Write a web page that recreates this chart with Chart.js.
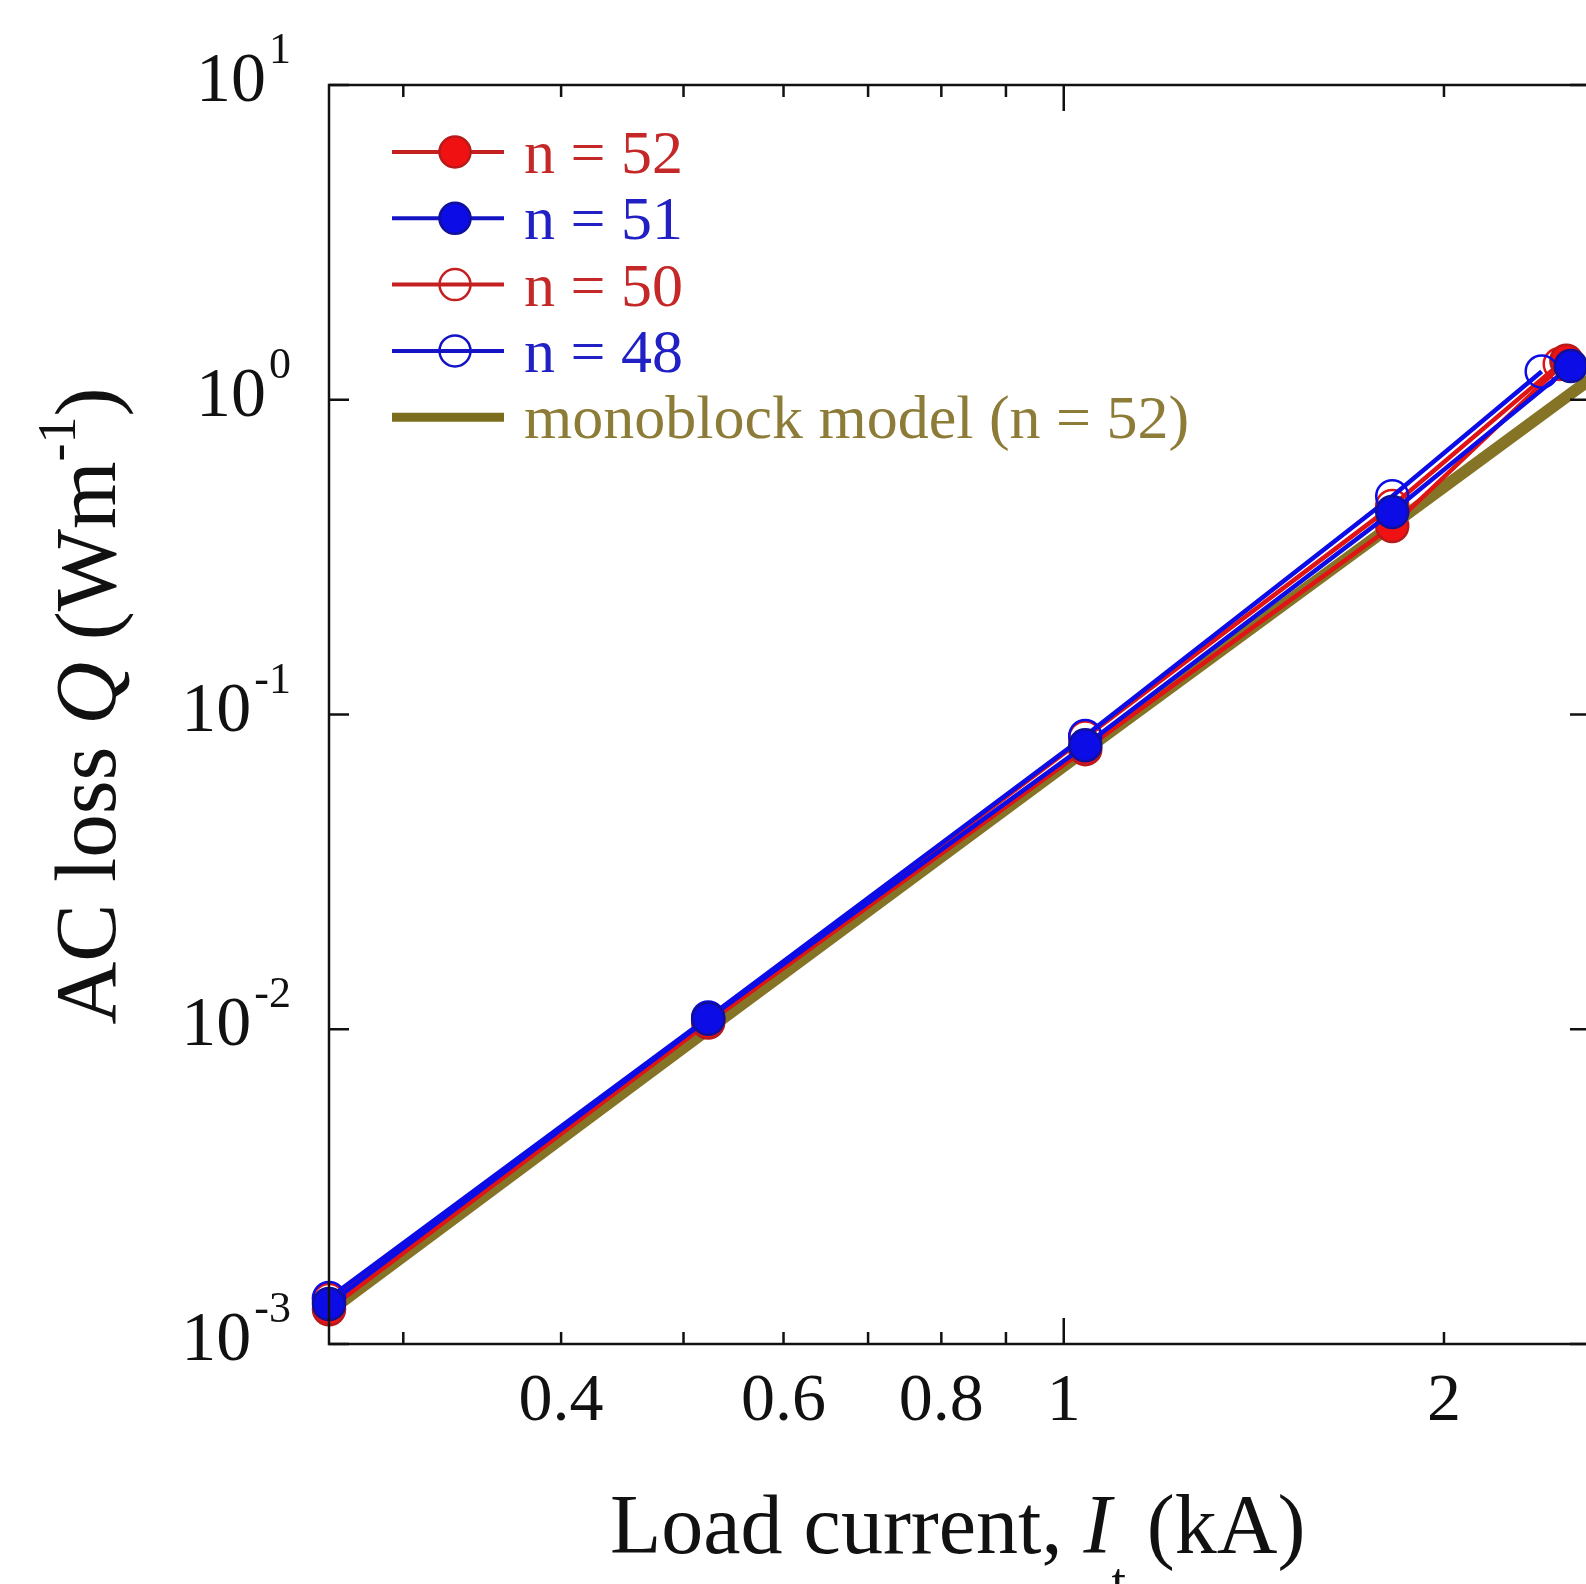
<!DOCTYPE html>
<html>
<head>
<meta charset="utf-8">
<script src="https://cdn.jsdelivr.net/npm/chart.js@4.4.1/dist/chart.umd.min.js"></script>
<style>
  html, body { margin: 0; padding: 0; background: #fff; overflow: hidden; }
  #wrap { position: absolute; left: 0; top: 0; width: 1600px; height: 1584px; }
</style>
</head>
<body>
<div id="wrap"><canvas id="chart" width="1600" height="1584"></canvas></div>
<script>
// Data (load current in kA, AC loss in W/m)
const currentN52 = [0.262, 0.523, 1.04, 1.82, 2.50];
const lossN52 = [1.29e-3, 1.05e-2, 0.0776, 0.397, 1.33];
const currentN51 = [0.262, 0.523, 1.04, 1.82, 2.52];
const lossN51 = [1.34e-3, 1.08e-2, 0.0798, 0.44, 1.28];
const currentN50 = [0.262, 0.523, 1.04, 1.82, 2.47];
const lossN50 = [1.38e-3, 1.07e-2, 0.0845, 0.46, 1.30];
const currentN48 = [0.262, 0.523, 1.04, 1.82, 2.39];
const lossN48 = [1.40e-3, 1.09e-2, 0.0855, 0.494, 1.23];
const currentModel = [0.262, 0.523, 1.04, 1.82, 2.61];
const lossModel = [1.27e-3, 1.0e-2, 0.077, 0.40, 1.16];

const seriesNames = ["n = 52", "n = 51", "n = 50", "n = 48", "monoblock model (n = 52)"];

// axis ticks
const xMajorTicks = [1];
const xMinorTicks = [0.3, 0.4, 0.5, 0.6, 0.7, 0.8, 0.9, 2];
const xTickLabels = [0.4, 0.6, 0.8, 1, 2];
const yTickExponents = [-3, -2, -1, 0, 1];

const FONT = '"Liberation Serif", "Times New Roman", serif';

function pts(xs, ys) {
    return xs.map((x, i) => ({ x: x, y: ys[i] }));
}

const RED = "#e01414";
const BLUE = "#0c0ce6";
const OLIVE = "#857426";

// Frame, ticks, labels, titles and legend
const framePlugin = {
    id: "frame",
    afterDraw(chart) {
        const ctx = chart.ctx;
        const xs = chart.scales.x, ys = chart.scales.y;
        const a = chart.chartArea;
        ctx.save();
        ctx.strokeStyle = "#111";
        ctx.lineWidth = 2.5;
        ctx.strokeRect(a.left, a.top, a.right - a.left, a.bottom - a.top);

        // x ticks (bottom and top, pointing inward)
        const xt = [];
        xMajorTicks.forEach(v => xt.push([v, 26]));
        xMinorTicks.forEach(v => xt.push([v, 12]));
        xt.forEach(([v, len]) => {
            const px = xs.getPixelForValue(v);
            ctx.beginPath();
            ctx.moveTo(px, a.bottom); ctx.lineTo(px, a.bottom - len);
            ctx.moveTo(px, a.top); ctx.lineTo(px, a.top + len);
            ctx.stroke();
        });
        // y ticks
        yTickExponents.forEach(e => {
            const py = ys.getPixelForValue(Math.pow(10, e));
            ctx.beginPath();
            ctx.moveTo(a.left, py); ctx.lineTo(a.left + 20, py);
            ctx.moveTo(a.right, py); ctx.lineTo(a.right - 20, py);
            ctx.stroke();
        });

        // x tick labels
        ctx.fillStyle = "#111";
        ctx.font = "68px " + FONT;
        ctx.textAlign = "center";
        ctx.textBaseline = "alphabetic";
        xTickLabels.forEach(v => {
            ctx.fillText(String(v), xs.getPixelForValue(v), 1420);
        });

        // y tick labels 10^e
        yTickExponents.forEach(e => {
            const py = ys.getPixelForValue(Math.pow(10, e));
            const exp = e < 0 ? "-" + Math.abs(e) : String(e);
            ctx.font = "44px " + FONT;
            const ew = ctx.measureText(exp).width;
            ctx.textAlign = "right";
            ctx.fillText(exp, 291, py - 22);
            ctx.font = "70px " + FONT;
            ctx.fillText("10", 291 - ew - 3, py + 16);
        });

        // x title
        drawRich(ctx, 610, 1553, [
            { t: "Load current, ", size: 84 },
            { t: "I", size: 84, italic: true },
            { t: "t", size: 52, dy: 46 },
            { t: " (kA)", size: 84 }
        ], "left");

        // y title
        ctx.save();
        ctx.translate(115, 706);
        ctx.rotate(-Math.PI / 2);
        drawRich(ctx, 0, 0, [
            { t: "AC loss ", size: 87 },
            { t: "Q", size: 87, italic: true },
            { t: " (Wm", size: 87 },
            { t: "-1", size: 54, dy: -40 },
            { t: ")", size: 87 }
        ], "center");
        ctx.restore();

        // legend
        const legendRows = [
            { name: seriesNames[0], line: "#c42020", text: "#c42828", fill: "#f01212", edge: "#b81a1a", marker: true },
            { name: seriesNames[1], line: "#1414c4", text: "#2020c4", fill: "#0c0ce6", edge: "#10109a", marker: true },
            { name: seriesNames[2], line: "#c42020", text: "#c42828", fill: null, edge: "#c42020", marker: true },
            { name: seriesNames[3], line: "#1414c4", text: "#2020c4", fill: null, edge: "#1414c4", marker: true },
            { name: seriesNames[4], line: "#7c6c1e", text: "#8c7c38", marker: false }
        ];
        legendRows.forEach((r, i) => {
            const y = 152 + i * 66.3;
            ctx.strokeStyle = r.line;
            ctx.lineWidth = r.marker ? 4 : 9;
            ctx.beginPath();
            ctx.moveTo(392, y); ctx.lineTo(504, y);
            ctx.stroke();
            if (r.marker) {
                ctx.beginPath();
                ctx.arc(455, y, 15.5, 0, Math.PI * 2);
                if (r.fill) { ctx.fillStyle = r.fill; ctx.fill(); }
                ctx.lineWidth = 2.5;
                ctx.strokeStyle = r.edge;
                ctx.stroke();
            }
            ctx.fillStyle = r.text;
            ctx.font = "62px " + FONT;
            ctx.textAlign = "left";
            ctx.textBaseline = "alphabetic";
            ctx.fillText(r.name, 524, y + 21);
        });
        ctx.restore();
    }
};

function drawRich(ctx, x, y, parts, align) {
    let total = 0;
    parts.forEach(p => {
        ctx.font = (p.italic ? "italic " : "") + p.size + "px " + FONT;
        p.w = ctx.measureText(p.t).width;
        total += p.w;
    });
    let cx = align === "center" ? x - total / 2 : x;
    ctx.textAlign = "left";
    ctx.textBaseline = "alphabetic";
    ctx.fillStyle = "#111";
    parts.forEach(p => {
        ctx.font = (p.italic ? "italic " : "") + p.size + "px " + FONT;
        ctx.fillText(p.t, cx, y + (p.dy || 0));
        cx += p.w;
    });
}

const ctx = document.getElementById("chart").getContext("2d");
new Chart(ctx, {
    type: "line",
    data: {
        datasets: [
            {
                label: seriesNames[1], data: pts(currentN51, lossN51), order: 1,
                borderColor: BLUE, borderWidth: 4.5, backgroundColor: BLUE,
                pointRadius: 16, pointBackgroundColor: BLUE, pointBorderColor: "#10109a", pointBorderWidth: 2.5,
                clip: false
            },
            {
                label: seriesNames[3], data: pts(currentN48, lossN48), order: 2,
                borderColor: BLUE, borderWidth: 4.5,
                pointRadius: 16, pointBackgroundColor: "rgba(0,0,0,0)", pointBorderColor: BLUE, pointBorderWidth: 2.5,
                clip: false
            },
            {
                label: seriesNames[0], data: pts(currentN52, lossN52), order: 3,
                borderColor: RED, borderWidth: 4.5, backgroundColor: RED,
                pointRadius: 16, pointBackgroundColor: "#f01212", pointBorderColor: "#b81a1a", pointBorderWidth: 2.5,
                clip: false
            },
            {
                label: seriesNames[2], data: pts(currentN50, lossN50), order: 4,
                borderColor: RED, borderWidth: 4.5,
                pointRadius: 16, pointBackgroundColor: "rgba(0,0,0,0)", pointBorderColor: RED, pointBorderWidth: 2.5,
                clip: false
            },
            {
                label: seriesNames[4], data: pts(currentModel, lossModel), order: 5,
                borderColor: OLIVE, borderWidth: 12, pointRadius: 0,
                clip: false
            }
        ]
    },
    options: {
        responsive: false,
        animation: false,
        devicePixelRatio: 1,
        layout: { autoPadding: false, padding: { left: 329, top: 85, right: 10, bottom: 240 } },
        plugins: { legend: { display: false }, tooltip: { enabled: false } },
        scales: {
            x: { type: "logarithmic", min: 0.262, max: 2.61, display: false },
            y: { type: "logarithmic", min: 1e-3, max: 10, display: false }
        }
    },
    plugins: [framePlugin]
});
</script>
</body>
</html>
